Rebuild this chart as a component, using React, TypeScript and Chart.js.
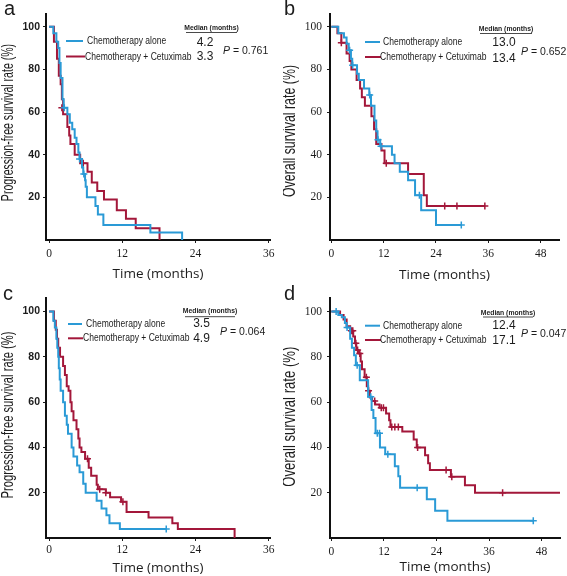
import React, { useEffect, useRef } from 'react';
import { Chart, registerables } from 'chart.js';
Chart.register(...registerables);

const BLUE = '#2a9ad6';
const RED = '#a3173a';
const INK = '#1c1c1c';

const seriesLabels = ['Chemotherapy alone', 'Chemotherapy + Cetuximab'];
const xTitle = 'Time (months)';
const yTicks = [20, 40, 60, 80, 100];
const xTicksShort = [0, 12, 24, 36];
const xTicksLong = [0, 12, 24, 36, 48];

// ---- Panel a: progression-free survival ----
const aBlueT = [0, 0.7, 1.2, 1.5, 1.7, 1.9, 2.2, 2.4, 3.0, 3.4, 3.8, 4.2, 4.5, 4.8, 5.0, 5.4, 5.6, 5.9, 6.0, 6.2, 7.6, 8.0, 8.9, 16.6, 21.8];
const aBlueS = [100, 97, 93, 90, 83, 76, 66, 62, 59, 55, 52, 48, 45, 41, 38, 34, 31, 28, 25, 20, 16, 12, 7, 3.5, 0];
const aBlueCT = [2.5, 5.0, 5.7];
const aBlueCS = [62, 38, 31];
const aRedT = [0, 0.8, 1.3, 1.6, 1.9, 2.1, 2.3, 3.0, 3.3, 3.5, 4.2, 5.1, 6.3, 7.0, 7.9, 9.0, 11.1, 12.6, 14.2, 18.1];
const aRedS = [100, 93, 85, 77, 73, 66, 59, 53, 49, 45, 40, 36, 32, 27, 23, 19, 14, 10, 5.5, 0];
const aRedCT = [2.1, 5.6];
const aRedCS = [62, 36];
const aMedians = ['4.2', '3.3'];
const aPValue = '0.761';

// ---- Panel b: overall survival ----
const bBlueT = [0, 1.6, 2.9, 3.5, 4.0, 4.5, 4.8, 5.9, 6.3, 7.5, 8.7, 9.1, 9.9, 10.3, 10.6, 11.2, 13.9, 14.5, 15.7, 17.6, 19.2, 20.6, 24.0, 29.8];
const bBlueS = [100, 97, 95, 92, 89, 85, 82, 78, 75, 71, 68, 63, 56, 51, 47, 44, 40, 36, 32, 28, 21, 14, 7, 7];
const bBlueCT = [4.2, 4.9, 8.8, 10.7, 11.4, 20.2, 29.8];
const bBlueCS = [89, 82, 68, 47, 44, 21, 7];
const bRedT = [0, 1.4, 2.3, 3.5, 4.2, 4.6, 5.8, 6.6, 7.0, 7.7, 9.2, 9.8, 10.3, 11.5, 12.2, 17.6, 21.2, 21.9, 35.2];
const bRedS = [100, 97, 92.5, 87.5, 84, 80, 75, 71, 67, 63, 58, 52, 45, 42, 36, 31, 21, 16, 16];
const bRedCT = [2.3, 12.6, 26.0, 28.8, 35.2];
const bRedCS = [92.5, 36, 16, 16, 16];
const bMedians = ['13.0', '13.4'];
const bPValue = '0.652';

// ---- Panel c: progression-free survival ----
const cBlueT = [0, 0.7, 0.95, 1.2, 1.35, 1.5, 1.6, 1.75, 1.9, 2.3, 2.6, 2.9, 3.1, 3.7, 4.0, 4.6, 5.0, 5.6, 6.0, 7.8, 8.6, 9.4, 9.9, 11.6, 19.2];
const cBlueS = [100, 96, 93, 88, 84, 80, 75, 70, 65, 60, 54, 50, 46, 40, 36, 32, 29, 24, 20, 16.5, 13, 10, 6.5, 4, 4];
const cBlueCT = [19.2];
const cBlueCS = [4];
const cRedT = [0, 0.8, 1.1, 1.3, 1.5, 1.8, 2.3, 2.6, 2.9, 3.2, 3.5, 3.7, 4.0, 4.5, 4.8, 5.0, 5.3, 5.9, 6.5, 6.9, 7.8, 8.0, 9.3, 10.0, 11.8, 12.7, 16.3, 20.2, 21.1, 30.4];
const cRedS = [100, 96, 92, 88, 84, 80, 76, 72, 67, 65, 60, 56, 52, 48, 44, 40, 38, 35, 31, 27.5, 23.5, 21.5, 20, 18, 16, 11.5, 9, 6.5, 4, 0];
const cRedCT = [6.3, 8.3, 9.3, 12.1];
const cRedCS = [35, 21.5, 20, 16];
const cMedians = ['3.5', '4.9'];
const cPValue = '0.064';

// ---- Panel d: overall survival ----
const dBlueT = [0, 1.6, 2.4, 3.1, 3.5, 4.3, 4.7, 5.2, 5.6, 6.5, 8.4, 9.2, 9.6, 10.1, 11.1, 12.3, 14.5, 15.3, 15.7, 21.8, 23.7, 26.5, 46.1];
const dBlueS = [100, 98.5, 97.5, 95, 93, 88, 84, 80.7, 76.3, 69.7, 62.4, 56.5, 53, 46.3, 40, 37, 31.7, 27.3, 22.2, 17.1, 12, 7.6, 7.6];
const dBlueCT = [1.1, 3.6, 5.9, 9.0, 10.5, 11.0, 12.9, 19.6, 46.1];
const dBlueCS = [100, 93, 76.3, 62.4, 46.3, 46.3, 37, 22.2, 7.6];
const dRedT = [0, 2.0, 2.8, 3.5, 4.3, 5.0, 5.4, 5.7, 6.2, 6.7, 7.0, 7.6, 8.1, 8.4, 8.8, 9.3, 10.0, 11.0, 12.5, 13.2, 13.5, 16.2, 18.8, 19.5, 21.4, 22.1, 22.5, 27.3, 30.5, 32.8, 52.3];
const dRedS = [100, 98.5, 96.5, 93.5, 91.5, 89, 86, 83, 81.5, 78, 74.5, 71, 67, 65, 62, 60.5, 59, 57.5, 55, 52, 49, 47, 43.5, 40, 36.5, 33, 30, 27, 23.3, 20, 20];
const dRedCT = [4.6, 4.9, 5.6, 6.0, 6.5, 8.0, 8.5, 9.9, 11.4, 11.9, 13.8, 14.5, 15.3, 19.7, 26.2, 27.5, 39.1];
const dRedCS = [91.5, 91.5, 86, 83, 81.5, 71, 65, 60.5, 57.5, 57.5, 49, 49, 49, 40, 30, 27, 20];
const dMedians = ['12.4', '17.1'];
const dPValue = '0.047';

const pts = (t: number[], s: number[]) => t.map((x, i) => ({ x, y: s[i] }));

const SANS = '"Liberation Sans", Arial, sans-serif';
const SERIF = '"Liberation Serif", "Times New Roman", serif';

type Spec = any;

const panels: Spec[] = [
  {
    letter: 'a', left: 0, top: 0, w: 283, h: 285, yW: 46, padTop: 14, padRight: 13, xH: 45,
    xMin: -0.5, xMax: 36.2, xTicks: xTicksShort, yTitle: 'Progression-free survival rate (%)',
    yTitleSize: 16, yTitleScale: 0.66, yTitleX: 8.5, yTitleY: 122.5,
    xTitlePad: 4.5, xTickPad: 4, yTickPad: 3,
    yTickFont: { family: SANS, size: 10.5, weight: 'bold' }, xTickFont: { family: SERIF, size: 11.5 },
    blue: [aBlueT, aBlueS, aBlueCT, aBlueCS], red: [aRedT, aRedS, aRedCT, aRedCS],
    medians: aMedians, pValue: aPValue,
    letterX: 4, letterY: 15, legX: 66, legEnd: [83, 85], legY: [41, 56.5], legTextX: [87, 85],
    medHeadX: 211.5, medHeadY: 27.8, medLine: [186, 237, 32.5], medX: 205, medY: [42.3, 56.3], pX: 223, pY: 51,
  },
  {
    letter: 'b', left: 283, top: 0, w: 284, h: 285, yW: 47, padTop: 14, padRight: 8, xH: 45,
    xMin: -0.3, xMax: 52.2, xTicks: xTicksLong, yTitle: 'Overall survival rate (%)',
    yTitleSize: 17.5, yTitleScale: 0.707, yTitleX: 7, yTitleY: 131,
    xTitlePad: 3.5, xTickPad: 4, yTickPad: 5,
    yTickFont: { family: SERIF, size: 11.5 }, xTickFont: { family: SERIF, size: 11.5 },
    blue: [bBlueT, bBlueS, bBlueCT, bBlueCS], red: [bRedT, bRedS, bRedCT, bRedCS],
    medians: bMedians, pValue: bPValue,
    letterX: 1, letterY: 15, legX: 82, legEnd: [97, 98], legY: [42, 57], legTextX: [100, 97],
    medHeadX: 223, medHeadY: 29.5, medLine: [197, 249, 33.5], medX: 221, medY: [43, 59], pX: 238, pY: 52,
  },
  {
    letter: 'c', left: 0, top: 285, w: 283, h: 291, yW: 46, padTop: 13, padRight: 13, xH: 38,
    xMin: -0.5, xMax: 36.2, xTicks: xTicksShort, yTitle: 'Progression-free survival rate (%)',
    yTitleSize: 16.5, yTitleScale: 0.68, yTitleX: 8.3, yTitleY: 130,
    xTitlePad: 1.5, xTickPad: 2, yTickPad: 3,
    yTickFont: { family: SANS, size: 10.5, weight: 'bold' }, xTickFont: { family: SERIF, size: 11.5 },
    blue: [cBlueT, cBlueS, cBlueCT, cBlueCS], red: [cRedT, cRedS, cRedCT, cRedCS],
    medians: cMedians, pValue: cPValue,
    letterX: 3, letterY: 15, legX: 68, legEnd: [82, 83], legY: [39, 53.3], legTextX: [86, 83],
    medHeadX: 210, medHeadY: 26.5, medLine: [185, 235, 31.7], medX: 201.5, medY: [39, 54], pX: 220, pY: 47,
  },
  {
    letter: 'd', left: 283, top: 285, w: 284, h: 291, yW: 47, padTop: 13, padRight: 7, xH: 38,
    xMin: -0.3, xMax: 52.2, xTicks: xTicksLong, yTitle: 'Overall survival rate (%)',
    yTitleSize: 18, yTitleScale: 0.73, yTitleX: 7.3, yTitleY: 131.7,
    xTitlePad: 2.5, xTickPad: 4, yTickPad: 5,
    yTickFont: { family: SERIF, size: 11.5 }, xTickFont: { family: SERIF, size: 11.5 },
    blue: [dBlueT, dBlueS, dBlueCT, dBlueCS], red: [dRedT, dRedS, dRedCT, dRedCS],
    medians: dMedians, pValue: dPValue,
    letterX: 1, letterY: 15, legX: 82, legEnd: [97, 98], legY: [40.7, 55], legTextX: [100, 97],
    medHeadX: 225, medHeadY: 28.5, medLine: [200, 250, 32], medX: 221, medY: [41, 56], pX: 238, pY: 49,
  },
];

function annotPlugin(p: Spec) {
  return {
    id: 'kmAnnot',
    afterDraw(chart: any) {
      const ctx = chart.ctx as CanvasRenderingContext2D;
      ctx.save();
      ctx.fillStyle = INK;
      ctx.textAlign = 'left';
      ctx.textBaseline = 'alphabetic';
      ctx.font = '20px ' + SANS;
      ctx.fillText(p.letter, p.letterX, p.letterY);

      // rotated, condensed y-axis title
      ctx.save();
      ctx.translate(p.yTitleX, p.yTitleY);
      ctx.rotate(-Math.PI / 2);
      ctx.scale(p.yTitleScale, 1);
      ctx.textAlign = 'center';
      ctx.textBaseline = 'middle';
      ctx.font = p.yTitleSize + 'px ' + SANS;
      ctx.fillText(p.yTitle, 0, 0);
      ctx.restore();

      // legend
      const colors = [BLUE, RED];
      for (let i = 0; i < 2; i++) {
        ctx.strokeStyle = colors[i];
        ctx.lineWidth = 2;
        ctx.beginPath();
        ctx.moveTo(p.legX, p.legY[i]);
        ctx.lineTo(p.legEnd[i], p.legY[i]);
        ctx.stroke();
        ctx.save();
        ctx.translate(p.legTextX[i], p.legY[i]);
        ctx.scale(0.775, 1);
        ctx.fillStyle = INK;
        ctx.textAlign = 'left';
        ctx.textBaseline = 'middle';
        ctx.font = '11px ' + SANS;
        ctx.fillText(seriesLabels[i], 0, 0);
        ctx.restore();
      }

      ctx.textBaseline = 'middle';
      ctx.textAlign = 'center';
      ctx.font = 'bold 6.8px ' + SANS;
      ctx.fillText('Median (months)', p.medHeadX, p.medHeadY);
      ctx.strokeStyle = INK;
      ctx.lineWidth = 0.8;
      ctx.beginPath();
      ctx.moveTo(p.medLine[0], p.medLine[2]);
      ctx.lineTo(p.medLine[1], p.medLine[2]);
      ctx.stroke();

      ctx.font = '12px ' + SANS;
      p.medians.forEach((m: string, i: number) => ctx.fillText(m, p.medX, p.medY[i]));

      ctx.textAlign = 'left';
      ctx.font = 'italic 10.5px ' + SANS;
      ctx.fillText('P', p.pX, p.pY);
      const w = ctx.measureText('P').width;
      ctx.font = '10.5px ' + SANS;
      ctx.fillText(' = ' + p.pValue, p.pX + w, p.pY);
      ctx.restore();
    },
  };
}

function KMPanel({ spec }: { spec: Spec }) {
  const ref = useRef<HTMLCanvasElement>(null);
  useEffect(() => {
    const p = spec;
    const curve = (d: number[][], color: string, label: string) => [
      {
        label,
        data: pts(d[0], d[1]),
        borderColor: color,
        backgroundColor: color,
        borderWidth: 2,
        stepped: true,
        pointRadius: 0,
        fill: false,
      },
      {
        label: label + ' (censored)',
        data: pts(d[2], d[3]),
        showLine: false,
        borderColor: color,
        backgroundColor: color,
        pointStyle: 'cross',
        pointRadius: 3.5,
        pointBorderWidth: 1.5,
      },
    ];
    const chart = new Chart(ref.current as HTMLCanvasElement, {
      type: 'line',
      data: {
        datasets: [
          ...curve(p.blue, BLUE, seriesLabels[0]),
          ...curve(p.red, RED, seriesLabels[1]),
        ] as any,
      },
      options: {
        responsive: false,
        animation: false,
        devicePixelRatio: 1,
        layout: { padding: { top: p.padTop, right: p.padRight, left: 0, bottom: 0 } },
        plugins: { legend: { display: false }, tooltip: { enabled: false } },
        scales: {
          x: {
            type: 'linear',
            min: p.xMin,
            max: p.xMax,
            afterBuildTicks: (s: any) => { s.ticks = p.xTicks.map((v: number) => ({ value: v })); },
            afterFit: (s: any) => { s.height = p.xH; },
            grid: { display: true, drawOnChartArea: false, drawTicks: true, tickLength: 3, color: INK, lineWidth: 1 },
            border: { display: true, color: '#111', width: 2 },
            ticks: { color: INK, font: p.xTickFont, padding: p.xTickPad, maxRotation: 0, autoSkip: false },
            title: {
              display: true, text: xTitle, color: INK,
              font: { family: '"Open Sans", "Noto Sans", sans-serif', size: 13.5, lineHeight: 1 },
              padding: { top: 0, bottom: p.xTitlePad },
            },
          },
          y: {
            type: 'linear',
            min: 0,
            max: 106,
            afterBuildTicks: (s: any) => { s.ticks = yTicks.map((v) => ({ value: v })); },
            afterFit: (s: any) => { s.width = p.yW; },
            grid: { display: true, drawOnChartArea: false, drawTicks: true, tickLength: 3, color: INK, lineWidth: 1 },
            border: { display: true, color: '#111', width: 2 },
            ticks: { color: INK, font: p.yTickFont, padding: p.yTickPad },
            title: { display: false },
          },
        },
      } as any,
      plugins: [annotPlugin(p)],
    });
    return () => chart.destroy();
  }, [spec]);
  return (
    <canvas
      ref={ref}
      width={spec.w}
      height={spec.h}
      style={{ position: 'absolute', left: spec.left, top: spec.top, width: spec.w, height: spec.h }}
    />
  );
}

export default function App() {
  return (
    <div style={{ position: 'absolute', left: 0, top: 0, width: 567, height: 576, background: '#fff', overflow: 'hidden' }}>
      {panels.map((p) => <KMPanel key={p.letter} spec={p} />)}
    </div>
  );
}
